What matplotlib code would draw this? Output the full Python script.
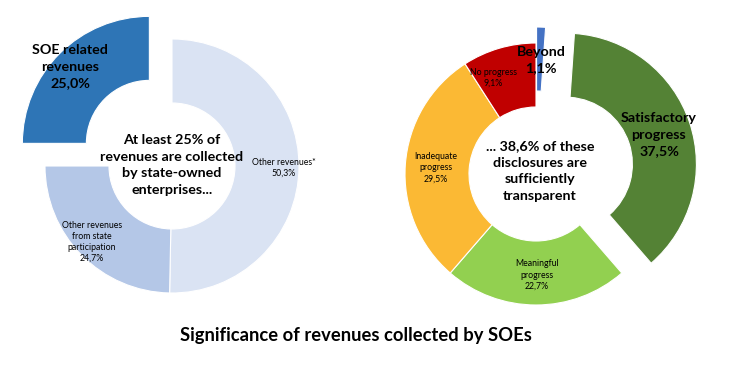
import matplotlib
matplotlib.use('Agg')
import matplotlib.pyplot as plt

plt.rcParams['font.family'] = ['Lato', 'DejaVu Sans']

# left donut: clockwise from 12 o'clock
left_labels = ['Other revenues*', 'Other revenues from state participation', 'SOE related revenues']
left_values = [50.3, 24.7, 25.0]
left_colors = ['#DAE3F3', '#B4C7E7', '#2E75B6']

# right donut: clockwise from 12 o'clock
right_labels = ['Beyond', 'Satisfactory progress', 'Meaningful progress', 'Inadequate progress', 'No progress']
right_values = [1.1, 37.5, 22.7, 29.5, 9.1]
right_colors = ['#4472C4', '#548235', '#92D050', '#FBB934', '#C00000']

W, H = 746, 372


def Y(y):
    # pixel row -> data y
    return H - y


fig = plt.figure(figsize=(7.46, 3.72), dpi=100)
ax = fig.add_axes([0, 0, 1, 1])

ax.pie(left_values, colors=left_colors, startangle=90, counterclock=False,
       center=(172, Y(166)), radius=127, explode=[0, 0, 32],
       wedgeprops=dict(width=64, edgecolor='white', linewidth=0.8))

ax.pie(right_values, colors=right_colors, startangle=90, counterclock=False,
       center=(536, Y(174)), radius=131, explode=[16, 31, 0, 0, 0],
       wedgeprops=dict(width=64, edgecolor='white', linewidth=0.8))

ax.set_xlim(0, W)
ax.set_ylim(0, H)
ax.set_aspect('equal')
ax.axis('off')

big = dict(fontsize=10.3, fontweight='bold', ha='center', va='center', linespacing=1.45)
small = dict(fontsize=6.3, ha='center', va='center', linespacing=1.3)

ax.text(70, Y(67), 'SOE related\nrevenues\n25,0%', **big)
ax.text(172, Y(165), 'At least 25% of\nrevenues are collected\nby state-owned\nenterprises...', **big)
ax.text(284, Y(168), 'Other revenues*\n50,3%', **small)
ax.text(92, Y(242), 'Other revenues\nfrom state\nparticipation\n24,7%', **small)

ax.text(541, Y(60), 'Beyond\n1,1%', **big)
ax.text(493, Y(78), 'No progress\n9,1%', **small)
ax.text(659, Y(135), 'Satisfactory\nprogress\n37,5%', **big)
ax.text(540, Y(171), '... 38,6% of these\ndisclosures are\nsufficiently\ntransparent', **big)
ax.text(436, Y(168), 'Inadequate\nprogress\n29,5%', **small)
ax.text(537, Y(275), 'Meaningful\nprogress\n22,7%', **small)

ax.text(356, Y(336), 'Significance of revenues collected by SOEs',
        fontsize=13.2, fontweight='bold', ha='center', va='center')

fig.savefig('out.png', dpi=100)
